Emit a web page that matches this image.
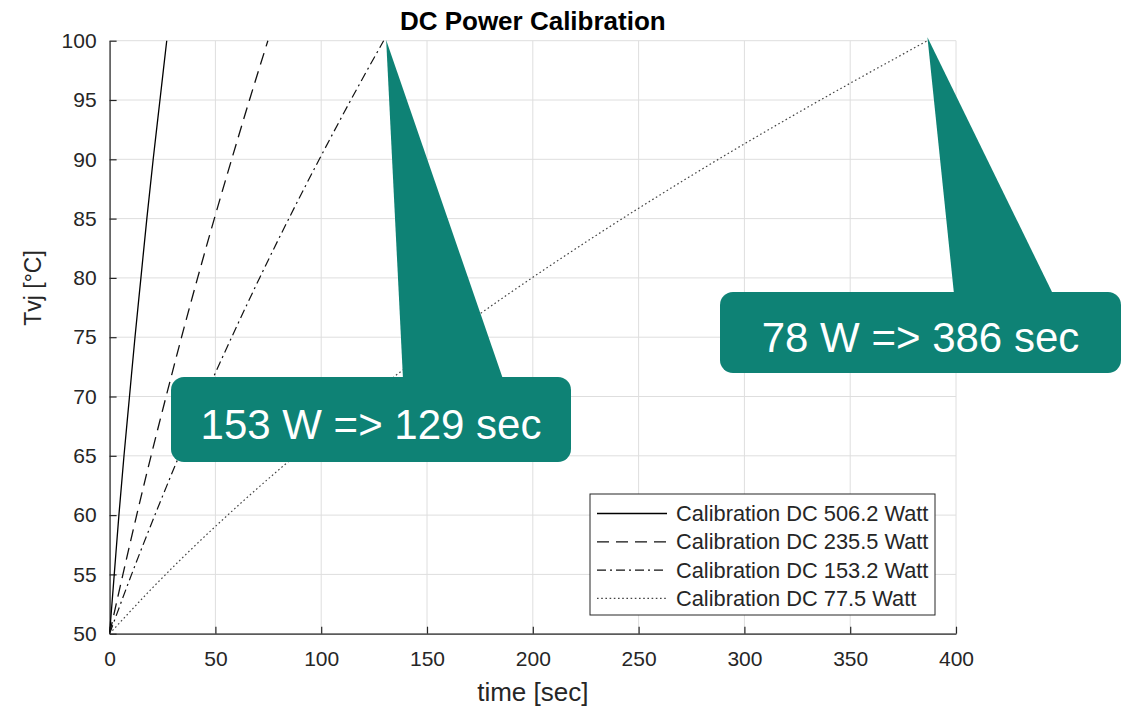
<!DOCTYPE html>
<html>
<head>
<meta charset="utf-8">
<script src="https://cdn.jsdelivr.net/npm/d3@7"></script>
<style>
  body { margin: 0; background: #fff; }
  svg { display: block; font-family: "Liberation Sans", Arial, Helvetica, sans-serif; }
</style>
</head>
<body>
<div id="chart"></div>
<script>
// temperatures (°C) sampled along every curve
const temps = [50, 55, 60, 65, 70, 75, 80, 85, 90, 95, 100];

// time (sec) to reach each temperature
const time506 = [0, 2.2, 4.4, 6.8, 9.4, 12.0, 14.8, 17.6, 20.6, 23.8, 27.0];
const time235 = [0, 6.3, 12.8, 19.6, 26.7, 34.0, 41.6, 49.5, 57.7, 66.1, 74.8];
const time153 = [0, 10.4, 21.4, 32.9, 45.0, 57.7, 70.9, 84.7, 99.1, 114.0, 129.5];
const time77 = [0, 26.5, 55.8, 87.7, 122.3, 159.6, 199.6, 242.3, 287.7, 335.9, 386.5];

const seriesNames = [
  "Calibration DC 506.2 Watt",
  "Calibration DC 235.5 Watt",
  "Calibration DC 153.2 Watt",
  "Calibration DC 77.5 Watt"
];

const xTicks = [0, 50, 100, 150, 200, 250, 300, 350, 400];
const yTicks = [50, 55, 60, 65, 70, 75, 80, 85, 90, 95, 100];

// callouts: label, and the point (time, temp) the pointer tip sits on
const calloutLabels = ["153 W => 129 sec", "78 W => 386 sec"];
const calloutTips = [[130.7, 100.06], [386.5, 100.29]];

const width = 1134;
const height = 713;
const margin = { top: 40.7, left: 109.6, bottom: 79.3, right: 178 };

const teal = "#0e8275";
const ink = "#262626";

const svg = d3
  .select("#chart")
  .append("svg")
  .attr("width", width)
  .attr("height", height);

const xScale = d3
  .scaleLinear()
  .domain([0, 400])
  .range([margin.left, width - margin.right]);

const yScale = d3
  .scaleLinear()
  .domain([50, 100])
  .range([height - margin.bottom, margin.top]);

const plotLeft = xScale(0);
const plotRight = xScale(400);
const plotTop = yScale(100);
const plotBottom = yScale(50);

// grid
const grid = svg.append("g").attr("stroke", "#dedede").attr("stroke-width", 1);
grid
  .selectAll("line.gx")
  .data(xTicks)
  .enter()
  .append("line")
  .attr("x1", d => xScale(d))
  .attr("x2", d => xScale(d))
  .attr("y1", plotTop)
  .attr("y2", plotBottom);
grid
  .selectAll("line.gy")
  .data(yTicks)
  .enter()
  .append("line")
  .attr("x1", plotLeft)
  .attr("x2", plotRight)
  .attr("y1", d => yScale(d))
  .attr("y2", d => yScale(d));

// axes
const xAxis = d3
  .axisBottom(xScale)
  .tickValues(xTicks)
  .tickSizeInner(-7)
  .tickSizeOuter(0)
  .tickPadding(17);

const yAxis = d3
  .axisLeft(yScale)
  .tickValues(yTicks)
  .tickSizeInner(-7)
  .tickSizeOuter(0)
  .tickPadding(13);

const xAxisG = svg
  .append("g")
  .attr("transform", `translate(0,${plotBottom})`)
  .call(xAxis);

const yAxisG = svg
  .append("g")
  .attr("transform", `translate(${plotLeft},0)`)
  .call(yAxis);

[xAxisG, yAxisG].forEach(g => {
  g.selectAll("path, line").attr("stroke", ink).attr("stroke-width", 1.2);
  g.selectAll("text")
    .attr("fill", ink)
    .style("font-size", "21px")
    .style("font-family", "'Liberation Sans', Arial, sans-serif");
});

// curves
const styles = [
  { dash: null, color: "#000", w: 1.3 },
  { dash: "12,7", color: "#111", w: 1.3 },
  { dash: "9,4,2,4", color: "#111", w: 1.2 },
  { dash: "1.6,2.6", color: "#444", w: 1.2 }
];

const seriesTimes = [time506, time235, time153, time77];

const line = d3
  .line()
  .x(d => xScale(d[0]))
  .y(d => yScale(d[1]))
  .curve(d3.curveMonotoneY);

svg
  .append("g")
  .selectAll("path")
  .data(seriesTimes)
  .enter()
  .append("path")
  .attr("d", times => line(times.map((t, i) => [t, temps[i]])))
  .attr("fill", "none")
  .attr("stroke", (d, i) => styles[i].color)
  .attr("stroke-width", (d, i) => styles[i].w)
  .attr("stroke-dasharray", (d, i) => styles[i].dash);

// title and axis labels
svg
  .append("text")
  .attr("x", (plotLeft + plotRight) / 2)
  .attr("y", 30)
  .attr("text-anchor", "middle")
  .attr("font-weight", "bold")
  .attr("font-size", 26)
  .attr("fill", "#000")
  .text("DC Power Calibration");

svg
  .append("text")
  .attr("x", (plotLeft + plotRight) / 2)
  .attr("y", 701)
  .attr("text-anchor", "middle")
  .attr("font-size", 26)
  .attr("fill", ink)
  .text("time [sec]");

svg
  .append("text")
  .attr("transform", "translate(41,288) rotate(-90)")
  .attr("text-anchor", "middle")
  .attr("font-size", 23)
  .attr("fill", ink)
  .text("Tvj [°C]");

// legend
const legend = svg.append("g").attr("transform", "translate(590,494)");
legend
  .append("rect")
  .attr("width", 345)
  .attr("height", 121)
  .attr("fill", "#fff")
  .attr("stroke", ink)
  .attr("stroke-width", 1);

const rows = legend
  .selectAll("g.row")
  .data(seriesNames)
  .enter()
  .append("g")
  .attr("transform", (d, i) => `translate(0,${19.5 + i * 28.3})`);

rows
  .append("line")
  .attr("x1", 7)
  .attr("x2", 77)
  .attr("stroke", (d, i) => styles[i].color)
  .attr("stroke-width", (d, i) => styles[i].w)
  .attr("stroke-dasharray", (d, i) => styles[i].dash);

rows
  .append("text")
  .attr("x", 86)
  .attr("y", 7.5)
  .attr("font-size", 21.8)
  .attr("fill", ink)
  .text(d => d);

// callouts
const calloutBoxes = [
  { x: 171, y: 377, w: 400, h: 85, baseL: 403, baseR: 503 },
  { x: 720, y: 292, w: 401, h: 81, baseL: 954, baseR: 1053 }
];

const callouts = svg.append("g");
calloutLabels.forEach((label, i) => {
  const b = calloutBoxes[i];
  const tip = calloutTips[i];
  const g = callouts.append("g");
  g.append("path")
    .attr(
      "d",
      `M${b.baseL},${b.y + 2} L${xScale(tip[0])},${yScale(tip[1])} L${b.baseR},${b.y + 2} Z`
    )
    .attr("fill", teal);
  g.append("rect")
    .attr("x", b.x)
    .attr("y", b.y)
    .attr("width", b.w)
    .attr("height", b.h)
    .attr("rx", 13)
    .attr("fill", teal);
  g.append("text")
    .attr("x", b.x + b.w / 2)
    .attr("y", b.y + b.h / 2 + 19)
    .attr("text-anchor", "middle")
    .attr("font-size", 42)
    .attr("fill", "#fff")
    .style("font-family", "'Liberation Sans', Arial, sans-serif")
    .text(label);
});
</script>
</body>
</html>
